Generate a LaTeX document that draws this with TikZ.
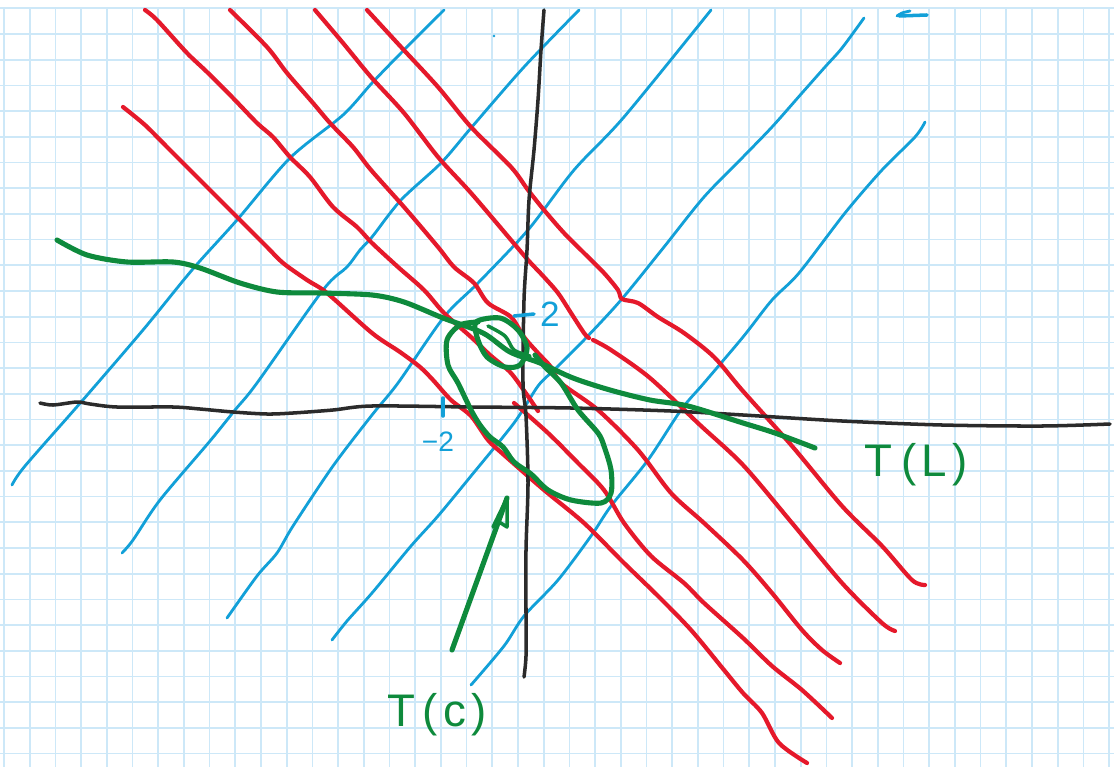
\documentclass[tikz,border=0pt]{standalone}
\usepackage{fontspec}
\setmainfont{Liberation Sans}
\definecolor{quadretto}{HTML}{CDE8F8}
\definecolor{penblu}{HTML}{12A0D8}
\definecolor{penrosso}{HTML}{E5192B}
\definecolor{penverde}{HTML}{0E8A3C}
\definecolor{pennero}{HTML}{2B2B2B}
\begin{document}
\begin{tikzpicture}[x=0.02cm, y=-0.02cm,
    griglia/.style={quadretto, line width=1pt},
    tratto/.style={line cap=round, line join=round},
    blu/.style={tratto, penblu, line width=1.6pt},
    rosso/.style={tratto, penrosso, line width=2.4pt},
    verde/.style={tratto, penverde, line width=2.9pt},
    asse/.style={tratto, pennero, line width=2pt},
    etichetta/.style={penverde, font=\fontsize{26}{28}\selectfont, inner sep=0pt},
    numero/.style={penblu, inner sep=0pt}]
    % Foglio a quadretti
    \fill[white] (0,0) rectangle (1114,767);
    \useasboundingbox (0,0) rectangle (1114,767);
    \foreach \i in {0,...,43}
        \draw[griglia] ({4+25.7*\i},8.3) -- ({4+25.7*\i},767);
    \foreach \j in {0,...,29}
        \draw[griglia] (0,{8.3+25.7*\j}) -- (1114,{8.3+25.7*\j});

    % Rette blu
    \draw[blu] plot[smooth] coordinates {(12,485) (25,466) (82,401) (143,330) (192,270) (237,220) (290,158) (343,115) (372,83) (401,53) (444,10)};
    \draw[blu] plot[smooth] coordinates {(122,553) (133,540) (160,500) (210,441) (235,410) (257,383) (323,290) (347,267) (360,250) (372,237) (401,200) (441,163) (471,128) (524,67) (579,10)};
    \draw[blu] plot[smooth] coordinates {(227,618) (257,576) (277,553) (293,526) (333,466) (372,415) (398,383) (444,317) (478,283) (528,230) (574,170) (624,117) (711,10)};
    \draw[blu] plot[smooth] coordinates {(332,640) (347,621) (372,593) (411,546) (438,516) (471,476) (514,423) (538,386) (554,370) (584,340) (621,300) (664,247) (704,197) (743,157) (772,127) (802,93) (825,67) (842,48) (864,18)};
    \draw[blu] plot[smooth] coordinates {(471,685) (504,646) (524,616) (558,580) (591,536) (611,506) (648,460) (681,410) (704,383) (743,337) (772,300) (799,273) (845,213) (882,170) (915,137) (925,122)};
    % pezzo di "2" in alto e puntino
    \draw[blu] plot[smooth] coordinates {(910,11) (902,13) (897,16)};
    \draw[blu, line width=2pt] (899,16) -- (927,15);
    \fill[penblu] (494,36) circle (1.4);

    % Rette rosse
    \draw[rosso] plot[smooth] coordinates {(123,107) (145,125) (167,147) (180,160) (207,187) (240,220) (267,247) (283,263) (307,280) (327,293) (372,333) (400,352) (420,367) (433,380) (451,400) (471,416) (488,440) (504,455) (544,490) (584,523) (624,563) (658,596) (691,630) (724,670) (743,693) (762,713) (779,743) (807,763)};
    \draw[rosso] plot[smooth] coordinates {(145,10) (157,20) (187,53) (207,72) (233,98) (257,123) (273,137) (290,157) (310,177) (333,207) (357,227) (372,243) (398,267) (424,290) (444,313) (471,337) (490,355) (510,372) (525,392) (538,411)};
    \draw[rosso] plot[smooth] coordinates {(514,403) (548,433) (578,463) (604,490) (624,523) (651,556) (684,583) (704,603) (743,638) (772,666) (802,690) (832,718)};
    \draw[rosso] plot[smooth] coordinates {(230,10) (267,47) (287,73) (313,103) (330,123) (353,147) (371,170) (404,207) (438,247) (454,267) (474,283) (488,303) (511,317) (524,337) (538,353) (551,367) (561,383) (598,410) (638,450) (671,493) (704,523) (743,560) (772,593) (802,630) (822,650) (840,663)};
    \draw[rosso] plot[smooth] coordinates {(315,10) (343,43) (371,77) (404,113) (438,157) (471,193) (511,240) (528,260) (544,277) (558,293) (571,313) (584,333) (589,338)};
    \draw[rosso] plot[smooth] coordinates {(593,340) (611,350) (650,378) (700,425) (743,465) (792,523) (842,583) (882,623) (895,631)};
    \draw[rosso] plot[smooth] coordinates {(367,10) (401,47) (438,87) (471,127) (511,167) (528,190) (544,210) (564,233) (584,253) (604,273) (618,290) (622,299) (638,303) (658,317) (684,333) (714,357) (742,390) (792,446) (842,506) (882,546) (912,580) (925,585)};

    % Assi
    \draw[asse] plot[smooth] coordinates {(40,403) (53,405) (77,402) (90,404) (117,407) (173,407) (200,409) (233,412) (267,414) (293,413) (333,410) (372,406) (471,407) (571,408) (671,411) (743,415) (842,421) (942,425) (1042,426) (1110,424)};
    \draw[asse] plot[smooth] coordinates {(544,10) (541,50) (538,100) (534,150) (529,200) (527,250) (524,300) (523,383) (526,416) (528,483) (526,550) (526,616) (526,656) (524,677)};

    % Tacche e numeri
    \draw[blu, line width=2pt] (443,398) -- (443,416);
    \node[numero, font=\fontsize{16}{18}\selectfont] (xlab) at (438,442) {−2};
    \draw[blu, line width=2pt] (514,316) -- (534,314);
    \node[numero, font=\fontsize{20}{22}\selectfont] (ylab) at (550,314) {2};

    % Curva T(L)
    \draw[verde] plot[smooth] coordinates {(57,240) (87,255) (127,262) (173,262) (200,268) (240,283) (277,292) (320,293) (372,295) (404,302) (443,318) (483,333) (510,352) (540,363) (573,378) (610,390) (650,400) (688,406) (743,423) (775,433) (815,448)};
    % Anellino
    \draw[verde] plot[smooth cycle] coordinates {(476,322) (500,318) (518,330) (527,348) (520,365) (505,367) (487,357) (478,340)};
    \draw[verde, line width=2pt] plot[smooth] coordinates {(488,326) (505,336) (514,350) (530,356)};
    % Curva T(c)
    \draw[verde] plot[smooth] coordinates {(478,322) (460,325) (447,340) (448,365) (458,383) (471,410) (480,425) (490,437) (503,447) (514,462) (531,474) (548,490) (571,500) (601,503) (611,493) (611,470) (604,446) (598,433) (578,410) (561,383) (545,367) (535,355)};

    % Etichette
    \node[etichetta] (tl) at (916,465) {T\kern5pt(\kern3pt L\kern3pt)};
    \node[etichetta] (tc) at (437,715) {T\kern4pt(\kern3pt c\kern3pt)};

    % Freccia verso T(c)
    \coordinate (coda) at (452,650);
    \coordinate (punta) at (507,498);
    \draw[verde] (coda) -- (punta);
    \draw[verde, line width=2pt] (493,527) -- (punta) -- (507,527) -- (496,520);
\end{tikzpicture}
\end{document}
